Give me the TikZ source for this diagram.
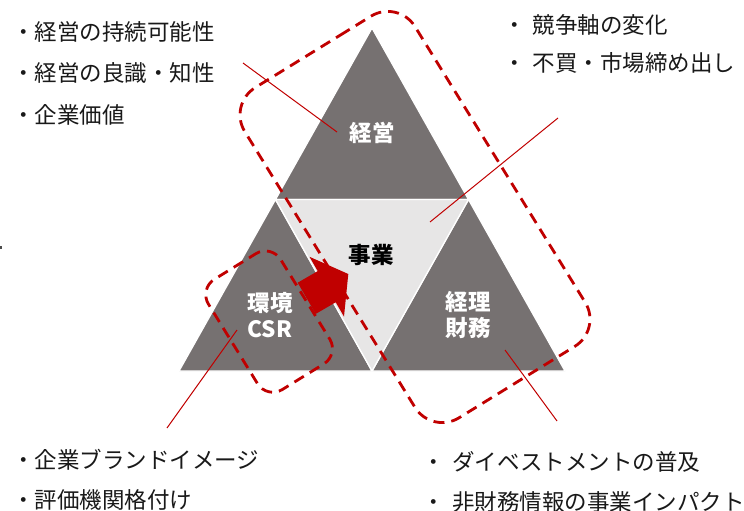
\documentclass[tikz,border=0pt]{standalone}
\usepackage{fontspec}
\setmainfont{Noto Sans CJK JP}
\definecolor{dgrey}{HTML}{767171}
\definecolor{lgrey}{HTML}{E7E6E6}
\definecolor{myred}{HTML}{C00000}
\begin{document}
\begin{tikzpicture}[x=1pt,y=-1pt,
  tri/.style={fill=dgrey,draw=white,line width=1.3pt,line join=round},
  mid/.style={fill=lgrey,draw=white,line width=1.3pt,line join=round},
  lbl/.style={text=white,font=\fontsize{22.5pt}{26pt}\selectfont\bfseries,align=center,inner sep=0pt},
  item/.style={anchor=west,inner sep=0pt,text=black!90,font=\fontsize{22.5pt}{27pt}\selectfont},
  leader/.style={draw=myred,line width=1pt},
  dashbox/.style={draw=myred,line width=2.8pt,dash pattern=on 11pt off 7pt},
  blockarrow/.style={fill=myred},
]
\useasboundingbox (0,0) rectangle (744,511);
% triangle corners
\coordinate (A) at (372,28);
\coordinate (BL) at (179,371);
\coordinate (BR) at (565,371);
\coordinate (ML) at (275.5,199.5);
\coordinate (MR) at (468.5,199.5);
\coordinate (MB) at (372,371);
\path[tri] (A) -- (MR) -- (ML) -- cycle;
\path[tri] (ML) -- (MB) -- (BL) -- cycle;
\path[tri] (MR) -- (BR) -- (MB) -- cycle;
\path[mid] (ML) -- (MR) -- (MB) -- cycle;
% red block arrow
\path[blockarrow] (297.7,282.7) -- (317.7,271.1) -- (309.5,256.8) -- (348.3,274) -- (344,316.6) -- (335.7,302.3) -- (315.7,313.9) -- cycle;
% dashed rounded boxes
\draw[dashbox,rounded corners=32pt] (313.1,51.9) -- (398.2,-0.6) -- (602,329.6) -- (431.8,434.6) -- (228,104.4) -- cycle;
\draw[dashbox,rounded corners=18pt] (235.1,266.5) -- (271.2,244.2) -- (339.2,354.4) -- (267,399) -- (199,288.8) -- cycle;
% labels
\node[lbl] (keiei) at (372,133) {経営};
\node[lbl,text=black] (jigyo) at (371,255) {事業};
\node[lbl] (kankyo) at (270,315) {環境\\CSR};
\node[lbl] (keiri) at (468,315) {経理\\財務};
% leader lines
\coordinate (l1a) at (243,63); \coordinate (l1b) at (337,132);
\coordinate (l2a) at (558,118); \coordinate (l2b) at (430,222);
\coordinate (l3a) at (237,330); \coordinate (l3b) at (167,428);
\coordinate (l4a) at (505,350); \coordinate (l4b) at (557,421);
\draw[leader] (l1a) -- (l1b);
\draw[leader] (l2a) -- (l2b);
\draw[leader] (l3a) -- (l3b);
\draw[leader] (l4a) -- (l4b);
% text items
\node[item] (i1) at (12,32) {・経営の持続可能性};
\node[item] (i2) at (12,73) {・経営の良識・知性};
\node[item] (i3) at (12,115) {・企業価値};
\node[item] (i4) at (503.75,25) {・\hspace{6.5pt}競争軸の変化};
\node[item] (i5) at (503.75,63) {・\hspace{6.5pt}不買・市場締め出し};
\node[item] (i6) at (12,460) {・企業ブランドイメージ};
\node[item] (i7) at (12,500) {・評価機関格付け};
\node[item] (i8) at (422.75,462) {・\hspace{7pt}ダイベストメントの普及};
\node[item] (i9) at (422.75,502) {・\hspace{7pt}非財務情報の事業インパクト};
\fill[black!70] (0,246) rectangle (1.5,249);
\end{tikzpicture}
\end{document}
